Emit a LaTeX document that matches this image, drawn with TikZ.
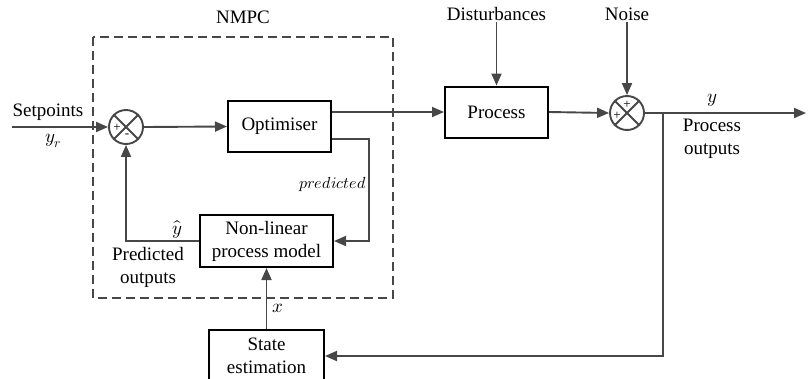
\documentclass[tikz,border=0pt]{standalone}
\usepackage{unicode-math}
\setmainfont{Liberation Serif}
\setmathfont{Latin Modern Math}
\usetikzlibrary{arrows.meta}
\begin{document}
\begin{tikzpicture}[x=1pt,y=-1pt,
  font=\fontsize{19}{23}\selectfont,
  blk/.style={draw=black,line width=2pt,align=center,inner sep=0pt},
  ln/.style={draw=black!72,line width=1.9pt},
  arr/.style={ln,-{Triangle[length=12pt,width=10pt]}},
  sumnode/.style={circle,draw=black!72,line width=1.9pt,minimum size=34pt,inner sep=0pt},
  sgn/.style={font=\fontsize{13}{13}\selectfont,inner sep=0pt},
  lbl/.style={align=center,inner sep=0pt}]
\useasboundingbox (0,0) rectangle (808,378);
\clip (0,0) rectangle (808,378);

% dashed NMPC frame
\draw[draw=black!72,line width=1.9pt,dash pattern=on 9pt off 5pt] (93,37) rectangle (393,298);
\node[lbl] (nmpc) at (243,17) {NMPC};

% blocks
\node[blk,minimum width=103pt,minimum height=51pt] (opt) at (279.5,126.5) {Optimiser};
\node[blk,minimum width=103pt,minimum height=51pt] (proc) at (496.5,112) {Process};
\node[blk,minimum width=133pt,minimum height=52pt] (nl) at (266.5,241) {Non-linear\\process model};
\node[blk,minimum width=115pt,minimum height=52pt] (se) at (266.5,356) {State\\estimation};

% summing junctions
\node[sumnode] (s1) at (126,127) {};
\draw[ln] (s1.north west) -- (s1.south east) (s1.north east) -- (s1.south west);
\node[sgn] (s1p) at (117,128) {+};
\node[sgn] (s1m) at (127,136) {-};
\node[sumnode] (s2) at (627,113) {};
\draw[ln] (s2.north west) -- (s2.south east) (s2.north east) -- (s2.south west);
\node[sgn] (s2t) at (627,105) {+};
\node[sgn] (s2l) at (617,116) {+};

% labels
\node[lbl] (setp) at (48,112) {Setpoints};
\node[lbl] (yr) at (53,141) {$y_r$};
\node[lbl] (dist) at (496.5,14) {Disturbances};
\node[lbl] (noise) at (627,14) {Noise};
\node[lbl] (yhat) at (177,229) {$\hat{y}$};
\node[lbl] (predout) at (148,267) {Predicted\\outputs};
\node[lbl,anchor=east,font=\fontsize{16}{16}\selectfont] (pred) at (366,184) {$predicted$};
\node[lbl,anchor=west] (xl) at (272,308) {$x$};
\node[lbl] (yl) at (712,100) {$y$};
\node[lbl] (pout) at (712,139) {Process\\outputs};

% connectors
\coordinate (in) at (12,127);
\coordinate (out) at (806,113);
\coordinate (br) at (663,113);
\draw[arr] (in) -- (s1.west);
\draw[arr] (s1.east) -- (opt.west);
\draw[arr] ([yshift=14.5pt]opt.east) -- (proc.west);
\draw[arr] ([yshift=-12.5pt]opt.east) -- ++(37,0) |- (nl.east);
\draw[arr] (nl.west) -| (s1.south);
\draw[arr] ([yshift=-1pt]dist.south) -- (proc.north);
\draw[arr] ([yshift=-1pt]noise.south) -- (s2.north);
\draw[arr] (proc.east) -- (s2.west);
\draw[arr] (s2.east) -- (out);
\draw[arr] (br) |- (se.east);
\draw[arr] (se.north) -- (nl.south);
\end{tikzpicture}
\end{document}
